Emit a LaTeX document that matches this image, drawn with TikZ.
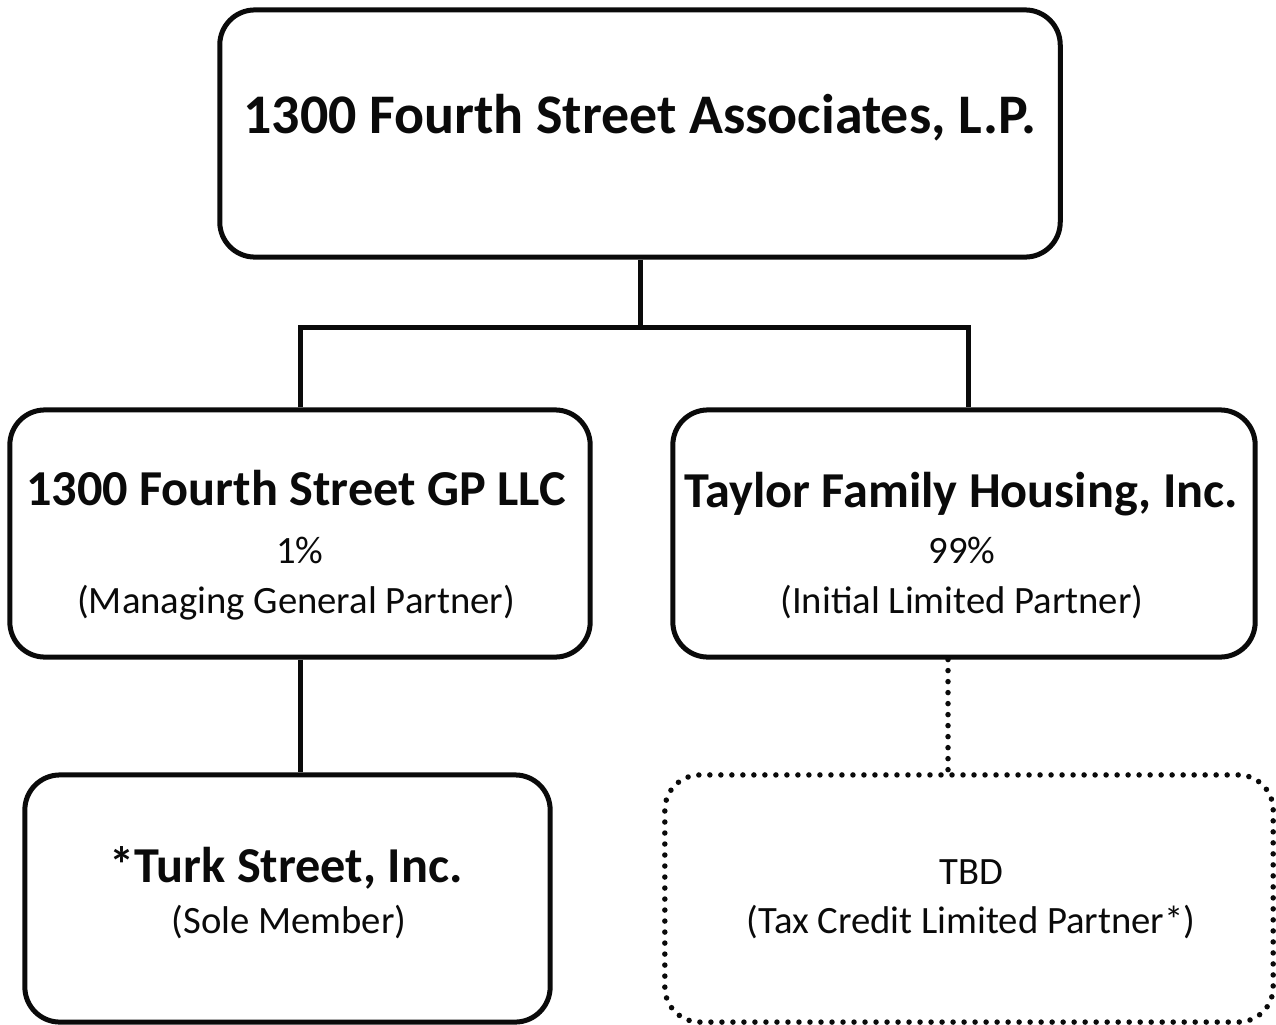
\documentclass[tikz,border=0pt]{standalone}
\usepackage{fontspec}
\setmainfont{Carlito}
\usetikzlibrary{calc,positioning}
\definecolor{ink}{RGB}{10,10,10}
\tikzset{
  orgbox/.style={draw=ink,line width=0.05cm,rounded corners=0.35cm,minimum height=2.47cm,inner sep=0pt},
  dotline/.style={draw=ink,line width=0.055cm,line cap=round,dash pattern=on 0pt off 0.11cm},
  link/.style={draw=ink,line width=0.05cm},
  bigname/.style={anchor=base,font=\bfseries\fontsize{15.9}{19}\selectfont},
  partyname/.style={anchor=base,font=\bfseries\fontsize{14.3}{17}\selectfont},
  role/.style={anchor=base,font=\fontsize{11}{13}\selectfont}
}
\begin{document}
\begin{tikzpicture}[x=0.01cm,y=-0.01cm,ink]
\useasboundingbox (0,0) rectangle (1276,1024);
\node[orgbox,minimum width=8.4cm] (top) at (640,133.5) {};
\node[orgbox,minimum width=5.8cm] (gp) at (300,533.5) {};
\node[orgbox,minimum width=5.82cm] (taylor) at (964,533.5) {};
\node[orgbox,minimum width=5.25cm] (turk) at (287.5,898.5) {};
\node[orgbox,dotline,minimum width=6.08cm] (tbd) at (969,898.5) {};
\node[bigname] (topname) at (640,133) {1300 Fourth Street Associates, L.P.};
\node[partyname] (gpname) at (296,505) {1300 Fourth Street GP LLC};
\node[role] (gppct) at (300,563) {1\%};
\node[role] (gprole) at (296,613) {(Managing General Partner)};
\node[partyname] (taylorname) at (961,507) {Taylor Family Housing, Inc.};
\node[role] (taylorpct) at (962,563) {99\%};
\node[role] (taylorrole) at (962,613) {(Initial Limited Partner)};
\node[partyname] (turkname) at (286,882) {*Turk Street, Inc.};
\node[role] (turkrole) at (289,933) {(Sole Member)};
\node[role] (tbdname) at (971,884) {TBD};
\node[role] (tbdrole) at (971,933) {(Tax Credit Limited Partner*)};
\draw[link] (top.south) -- ++(0,68) coordinate (bus);
\draw[link] (gp.north) |- (bus) -| ($(taylor.north)+(4,0)$);
\draw[link] (gp.south) -- (gp.south |- turk.north);
\draw[dotline] ($(taylor.south)+(-16,0)$) -- ($(tbd.north)+(-21,0)$);
\end{tikzpicture}
\end{document}
